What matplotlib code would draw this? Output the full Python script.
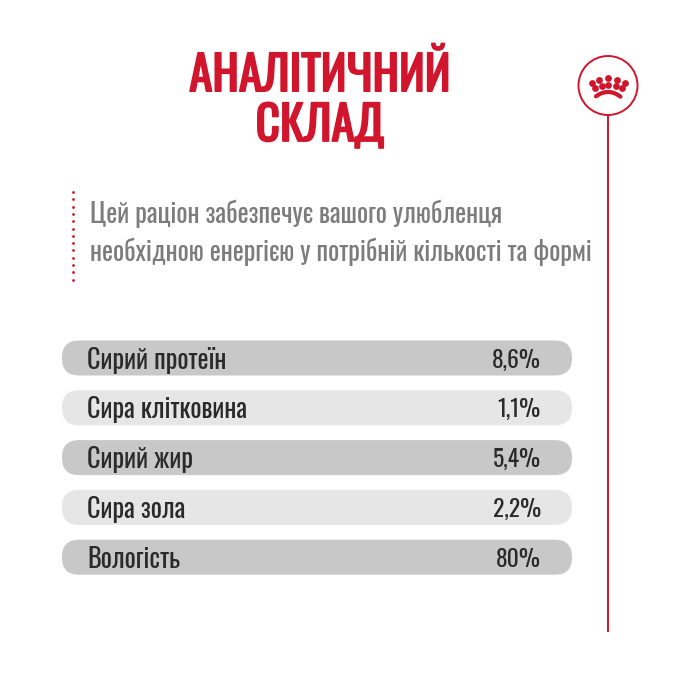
import numpy as np
import matplotlib
matplotlib.use('Agg')
import matplotlib.pyplot as plt
import matplotlib.patheffects as pe
from matplotlib.patches import FancyBboxPatch, Circle

plt.rcParams['font.family'] = ['Oswald', 'Roboto Condensed', 'Roboto', 'DejaVu Sans']

# Data
title_lines = ['АНАЛІТИЧНИЙ', 'СКЛАД']
intro_lines = ['Цей раціон забезпечує вашого улюбленця',
               'необхідною енергією у потрібній кількості та формі']
categories = ['Сирий протеїн', 'Сира клітковина', 'Сирий жир', 'Сира зола', 'Вологість']
values = ['8,6%', '1,1%', '5,4%', '2,2%', '80%']

RED = '#d0152c'
row_colors = ['#c8c8c8', '#e6e6e6']

fig = plt.figure(figsize=(6.82, 6.82), dpi=100)
ax = fig.add_axes([0, 0, 1, 1])
ax.set_xlim(0, 682)
ax.set_ylim(682, 0)
ax.axis('off')

# Title, the font has no bold so thicken it with a stroke
for i, line in enumerate(title_lines):
    ax.text(320, 76 + i * 50, line, color=RED, fontsize=34, ha='center', va='center',
            path_effects=[pe.withStroke(linewidth=1.3, foreground=RED)])

# Intro text with dotted rule
for i, line in enumerate(intro_lines):
    ax.text(90, 214 + i * 38, line, color='#7c7c7c', fontsize=18.9, ha='left', va='center')
dots_y = np.arange(192, 280, 7.3)
ax.scatter(np.full(len(dots_y), 72.5), dots_y, s=4, color=RED, linewidths=0)

# Rows
for i, (cat, val) in enumerate(zip(categories, values)):
    yc = 358 + i * 49.8
    ax.add_patch(FancyBboxPatch((62 + 17, yc - 0.5), 510 - 34, 1,
                                boxstyle='round,pad=17', fc=row_colors[i % 2], ec='none'))
    ax.text(87, yc + 2, cat, color='#2a2a2a', fontsize=18.9, ha='left', va='center')
    ax.text(541, yc + 2, val, color='#2a2a2a', fontsize=17, ha='right', va='center')

# Badge and vertical line
ax.plot([608, 608], [115, 632], color=RED, lw=1.4, solid_capstyle='butt')
ax.add_patch(Circle((608, 85.5), 29.5, fc='white', ec=RED, lw=1.4))

# Crown
crown_x = [591.7, 599.3, 608.3, 616.7, 625, 595, 601.7, 608.3, 615.7, 622.3]
crown_y = [82.7, 80, 78.3, 80, 82.7, 88.3, 85.7, 85, 85.7, 88.3]
ax.scatter(crown_x, crown_y, s=24, color=RED, linewidths=0)
arc_x = np.linspace(596, 620.5, 30)
ax.plot(arc_x, 92 + 0.03 * (arc_x - 608) ** 2, color=RED, lw=3, solid_capstyle='round')

fig.savefig('out.png', dpi=100)
